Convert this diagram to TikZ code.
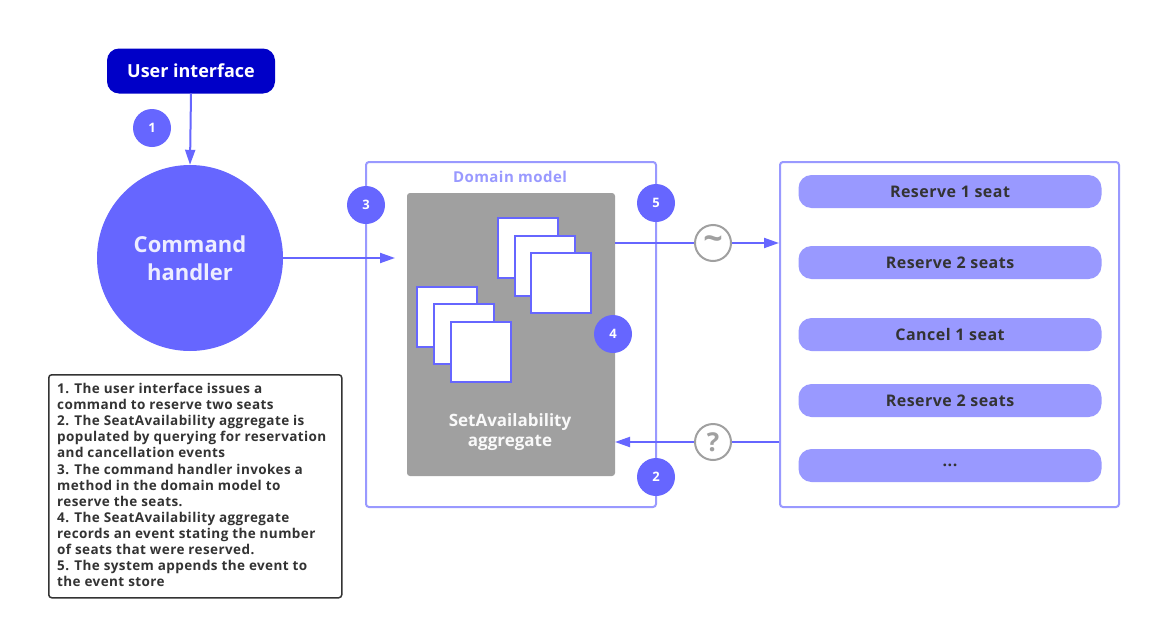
\documentclass[tikz,border=0pt]{standalone}
\usepackage{fontspec}
\setmainfont{Open Sans}
\newfontfamily\spacedfont[LetterSpace=3]{Open Sans}
\usetikzlibrary{arrows.meta}
\definecolor{uiblue}{HTML}{0000C8}
\definecolor{cmdblue}{HTML}{6666FF}
\definecolor{paleblue}{HTML}{9999FF}
\definecolor{agggray}{HTML}{A0A0A0}
\definecolor{inkgray}{HTML}{333333}
\tikzset{
badge/.style={circle, fill=cmdblue, text=white, minimum size=38pt, inner sep=0pt,
  font=\bfseries\fontsize{13}{13}\selectfont},
token/.style={circle, draw=agggray, line width=2pt, fill=white, text=agggray,
  minimum size=36pt, inner sep=0pt, font=\bfseries\fontsize{26}{26}\selectfont},
flow/.style={draw=cmdblue, line width=2pt, -{Triangle[length=15pt,width=10pt]}},
frame/.style={draw=paleblue, line width=2pt, rounded corners=3pt},
page/.style={draw=cmdblue, fill=white, line width=2pt, minimum size=60pt, inner sep=0pt},
event/.style={fill=paleblue, rounded corners=13pt, minimum width=303pt, minimum height=33pt,
  inner sep=0pt, text=inkgray, font=\spacedfont\bfseries\fontsize{16}{16}\selectfont}
}
\begin{document}
\begin{tikzpicture}[x=1pt, y=-1pt]
  \useasboundingbox[fill=white] (0,0) rectangle (1150,629);
  \node[fill=uiblue, rounded corners=12pt, minimum width=168pt, minimum height=45pt,
    text=white, font=\bfseries\fontsize{18}{18}\selectfont] (ui) at (191,71) {User interface};
  \node[circle, fill=cmdblue, minimum size=186pt, inner sep=0pt, align=center,
    text=white!88!cmdblue, font=\bfseries\fontsize{22}{28}\selectfont] (cmd) at (190,258) {Command\\handler};
  \node[badge] (b1) at (152,128) {1};
  \draw[flow] (ui.south) -- (cmd.north);

  \node[frame, minimum width=290pt, minimum height=345pt, inner sep=0pt] (dm) at (511,334.5) {};
  \node[text=paleblue, font=\spacedfont\bfseries\fontsize{15}{15}\selectfont] (dmlabel) at (510,177) {Domain model};
  \node[fill=agggray, rounded corners=3pt, minimum width=208pt, minimum height=283pt,
    inner sep=0pt] (agg) at (511,334.5) {};
  \foreach \i in {0,1,2} {
    \node[page] (pa\i) at (528+16.5*\i, 248+17.5*\i) {};
    \node[page] (pb\i) at (447+16.8*\i, 317+17.3*\i) {};
  }
  \node[align=center, text=white!94!agggray, font=\bfseries\fontsize{17}{20}\selectfont]
    (agglabel) at (510,432) {SetAvailability\\aggregate};

  \node[frame, minimum width=339pt, minimum height=345pt, inner sep=0pt] (store) at (949.5,334.5) {};
  \node[event] (e1) at (950,191.5) {Reserve 1 seat};
  \node[event] (e2) at (950,262.5) {Reserve 2 seats};
  \node[event] (e3) at (950,334.5) {Cancel 1 seat};
  \node[event] (e4) at (950,400.5) {Reserve 2 seats};
  \node[event] (e5) at (950,465.5) {...};

  \coordinate (dmin) at (395,258);
  \coordinate (aggout) at (615,243);
  \coordinate (storein) at (779,243);
  \coordinate (storeout) at (779,442);
  \coordinate (aggin) at (615,442);
  \node[token, font=\bfseries\fontsize{34}{34}\selectfont] (tilde) at (713,243) {\char`\~};
  \node[token] (query) at (713,442) {?};
  \draw[flow] (cmd.east |- dmin) -- (dmin);
  \draw[flow] (aggout) -- (tilde) -- (storein);
  \draw[flow] (storeout) -- (query) -- (aggin);

  \node[badge] (b3) at (366,205) {3};
  \node[badge] (b5) at (656,203) {5};
  \node[badge] (b4) at (613,334) {4};
  \node[badge] (b2) at (656,477) {2};

  \node[draw=inkgray, line width=1.5pt, rounded corners=3pt, anchor=north west,
    minimum width=293pt, minimum height=223pt, inner sep=0pt] (notebox) at (48,374) {};
  \node[anchor=north west, align=left, text=inkgray, inner sep=0pt,
    font=\spacedfont\bfseries\fontsize{13.5}{16.1}\selectfont] (notes) at (57,383) {%
    1. The user interface issues a\\
    command to reserve two seats\\
    2. The SeatAvailability aggregate is\\
    populated by querying for reservation\\
    and cancellation events\\
    3. The command handler invokes a\\
    method in the domain model to\\
    reserve the seats.\\
    4. The SeatAvailability aggregate\\
    records an event stating the number\\
    of seats that were reserved.\\
    5. The system appends the event to\\
    the event store};
\end{tikzpicture}
\end{document}
